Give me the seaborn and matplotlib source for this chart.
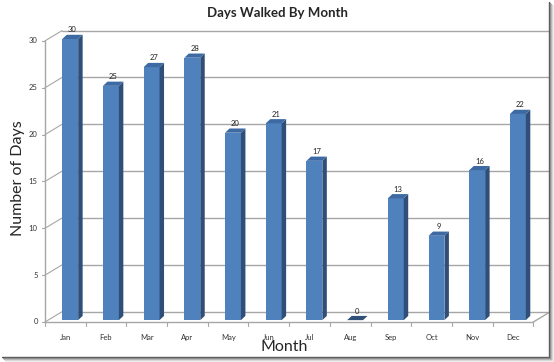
import pandas as pd
import seaborn as sns
import matplotlib.pyplot as plt
from matplotlib.patches import Polygon
from matplotlib.lines import Line2D

# data
months = ["Jan", "Feb", "Mar", "Apr", "May", "Jun",
          "Jul", "Aug", "Sep", "Oct", "Nov", "Dec"]
days = [30, 25, 27, 28, 20, 21, 17, 0, 13, 9, 16, 22]
yticks = [0, 5, 10, 15, 20, 25, 30]

df = pd.DataFrame({"Month": months, "Days": days})

sns.set_style("white")
plt.rcParams["font.family"] = ["Lato", "DejaVu Sans"]

front = "#4f81bd"
side = "#2f4f78"
top = "#3d6aa3"
grid = "#a6a6a6"

fig = plt.figure(figsize=(5.54, 3.62), dpi=100)
ax = fig.add_axes([45 / 554, 1 - 322 / 362, (548 - 45) / 554, (322 - 30) / 362])

# depth of the back wall (in data units) and of each bar
wall_dx, wall_dy = 0.42, 1.1
bar_dx, bar_dy = 0.11, 0.45
shift_x, base_y = 0.12, 0.2

sns.barplot(data=df, x="Month", y="Days", color=front, width=0.39,
            saturation=1, ax=ax, zorder=3)

ax.set_xlim(-0.5, 11.86)
ax.set_ylim(0, 31.16)
for s in ax.spines.values():
    s.set_visible(False)
ax.set_xticks([])
ax.set_yticks([])
ax.set_xlabel("")
ax.set_ylabel("")

n = len(months)
# back wall gridlines + left diagonals
for v in yticks:
    ax.plot([-0.5 + wall_dx, n - 0.5 + wall_dx], [v + wall_dy, v + wall_dy],
            color=grid, lw=1, zorder=1, clip_on=False)
    ax.plot([-0.5, -0.5 + wall_dx], [v, v + wall_dy], color=grid, lw=0.8,
            zorder=1, clip_on=False)
    ax.plot([-0.58, -0.5], [v, v], color=grid, lw=0.8, clip_on=False)
    ax.text(-0.68, v, str(v), ha="right", va="center", fontsize=5.5,
            color="#333333")

# front axis line and floor
ax.plot([-0.5, -0.5], [0, max(yticks)], color=grid, lw=1, clip_on=False)
ax.plot([-0.5, n - 0.5], [0, 0], color=grid, lw=1, clip_on=False, zorder=2)
ax.plot([n - 0.5, n - 0.5 + wall_dx], [0, wall_dy], color=grid, lw=1,
        clip_on=False, zorder=2)
for i in range(n + 1):
    ax.plot([i - 0.5, i - 0.5], [0, -0.4], color=grid, lw=0.8, clip_on=False)
for i, m in enumerate(months):
    ax.text(i, -1.3, m, ha="center", va="top", fontsize=5.5, color="#333333")

# 3d look for the bars
for p, v in zip(ax.patches, days):
    p.set_x(p.get_x() + shift_x)
    p.set_y(base_y)
    p.set_height(v)
    p.set_linewidth(0)
    x0, w = p.get_x(), p.get_width()
    y0, y1 = base_y, base_y + v
    ax.add_patch(Polygon([(x0 + w, y0), (x0 + w + bar_dx, y0 + bar_dy),
                          (x0 + w + bar_dx, y1 + bar_dy), (x0 + w, y1)],
                         closed=True, fc=side, ec="none", zorder=3))
    ax.add_patch(Polygon([(x0, y1), (x0 + bar_dx, y1 + bar_dy),
                          (x0 + w + bar_dx, y1 + bar_dy), (x0 + w, y1)],
                         closed=True, fc=top if v > 0 else side, ec="none",
                         zorder=3))
    ax.text(x0 + (w + bar_dx) / 2, y1 + bar_dy + 0.15, str(v), ha="center",
            va="bottom", fontsize=5.5, color="#222222", zorder=4)

fig.text(277 / 554, 1 - 13 / 362, "Days Walked By Month", ha="center",
         va="center", fontsize=9.5, fontweight="bold")
fig.text(284 / 554, 1 - 347 / 362, "Month", ha="center", va="center",
         fontsize=11.5)
fig.text(18 / 554, 1 - 178 / 362, "Number of Days", ha="center",
         va="center", fontsize=11.5, rotation=90)

# border with drop shadow on right and bottom
W, H = 554, 362
for k, c in enumerate(["#555555", "#888888", "#b0b0b0", "#d4d4d4", "#ececec"]):
    fig.add_artist(Line2D([(549 + k) / W, (549 + k) / W],
                          [1 - (357 + k) / H, 1 - (2 + k) / H],
                          transform=fig.transFigure, color=c, lw=1))
    fig.add_artist(Line2D([(2 + k) / W, (549 + k) / W],
                          [1 - (357 + k) / H, 1 - (357 + k) / H],
                          transform=fig.transFigure, color=c, lw=1))

plt.savefig("out.png", dpi=100)
